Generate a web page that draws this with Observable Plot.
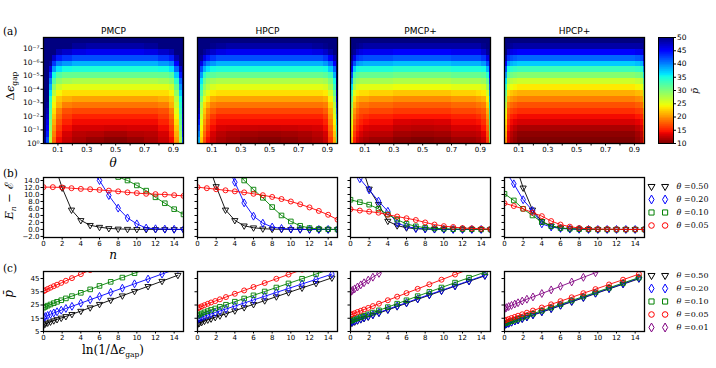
<!DOCTYPE html>
<html><head><meta charset="utf-8">
<script src="https://cdn.jsdelivr.net/npm/d3@7"></script>
<script src="https://cdn.jsdelivr.net/npm/@observablehq/plot@0.6"></script>
<style>
body{margin:0;background:#fff;}
#fig{position:relative;width:716px;height:368px;overflow:hidden;background:#fff;}
</style></head><body><div id="fig"></div>
<script>
// ---------------- data ----------------
const methods = ["PMCP", "HPCP", "PMCP+", "HPCP+"];
const thetaEdges = [0, 0.02, 0.04, 0.06, 0.09, 0.13, 0.2, 0.3, 0.42, 0.58, 0.7, 0.8, 0.87, 0.91, 0.94, 0.96, 0.97];
const lnGapEdges = [0,1,2,3,4,5,6,7,8,9,10,11,12,13,14,15,16,17,18];
const thetaTicks = [0.1,0.2,0.3,0.4,0.5,0.6,0.7,0.8,0.9];
const thetaTickLabels = ["0.1","","0.3","","0.5","","0.7","","0.9"];
const gapTicks = [1,1e-1,1e-2,1e-3,1e-4,1e-5,1e-6,1e-7];
const gapTickLabels = ["10\u2070","10\u207B\u00B9","10\u207B\u00B2","10\u207B\u00B3","10\u207B\u2074","10\u207B\u2075","10\u207B\u2076","10\u207B\u2077"];
const pbarTicks = [10,15,20,25,30,35,40,45,50];

// heatmap: one array per theta column, p-bar from ln(1/gap)=0 (bottom) upward
const heatPMCP = [
 [49,50,50,50,50,50,50,50,50,50,50,50,50,50,50,50,50,50],
 [42,44,45,46,47,48,49,50,50,50,50,50,50,50,50,50,50,50],
 [27,28,29,30,31,32,33,34,36,38,40,43,46,49,50,50,50,50],
 [18,19,20,21,22,23,24,25,27,29,32,35,39,43,47,50,50,50],
 [14,15,16,17,18,19,21,22,24,26,29,32,36,40,44,48,50,50],
 [12.5,13,14,15,16,17,19,21,23,25,28,31,35,39,43,47,50,50],
 [11.5,12,13,14,15,16.5,18.5,20.5,23,25,27.5,31,34.5,38,42,46,49,50],
 [10.8,11.8,13,14,15,16.5,18.5,20.5,23,25,27.5,31,34.5,38,42,45.5,48.5,50],
 [10.3,11.3,12.8,14,15,16.5,18.5,20.5,23,25,27.5,31,34.5,38,42,45.5,48.5,50],
 [10.8,11.8,13,14,15,16.5,18.5,20.5,23,25,27.5,31,34.5,38,42,45.5,48.5,50],
 [11.5,12,13,14,15,16.5,18.5,20.5,23,25,27.5,31,34.5,38,42,46,49,50],
 [12.5,13,14,15,16,17,19,21,23,25,28,31,35,39,43,47,50,50],
 [14,15,16,17,18,19,21,22,24,26,29,32,36,40,44,48,50,50],
 [20,21,22,23,24,25,26,27,29,31,34,37,41,45,48,50,50,50],
 [28,29,30,31,32,33,34,35,37,39,41,44,47,50,50,50,50,50],
 [42,44,45,46,47,48,49,50,50,50,50,50,50,50,50,50,50,50]
];
const heatHPCP = [
 [38,40,42,44,46,48,49,50,50,50,50,50,50,50,50,50,50,50],
 [22,23,24,25,26,27,28,30,32,34,36,39,42,46,49,50,50,50],
 [17,18,19,20,21,22,23,25,27,29,31,34,38,42,46,49,50,50],
 [14,15,16,17,18,19,21,23,25,27,29,32,36,40,44,48,50,50],
 [12.5,13,14,15,16,17.5,19,21,23.5,25.5,28,31.5,35,39,43,47,49.5,50],
 [11.5,12,13,14,15,16.5,18.5,20.5,23,25,27.5,31,34.5,38,42,46,49,50],
 [11,11.5,12.8,14,15,16.5,18.5,20.5,23,25,27.5,31,34.5,38,42,45.5,48.5,50],
 [10.5,11.2,12.6,14,15,16.5,18.5,20.5,23,25,27.5,31,34.5,38,42,45.5,48.5,50],
 [10.2,11,12.5,14,15,16.5,18.5,20.5,23,25,27.5,31,34.5,38,42,45.5,48.5,50],
 [10.5,11.2,12.6,14,15,16.5,18.5,20.5,23,25,27.5,31,34.5,38,42,45.5,48.5,50],
 [11,11.5,12.8,14,15,16.5,18.5,20.5,23,25,27.5,31,34.5,38,42,45.5,48.5,50],
 [11.5,12,13,14,15,16.5,18.5,20.5,23,25,27.5,31,34.5,38,42,46,49,50],
 [12.5,13,14,15,16,17.5,19,21,23.5,25.5,28,31.5,35,39,43,47,49.5,50],
 [16,17,18,19,20,21,22.5,24,26,28,30,33,37,41,45,48.5,50,50],
 [21,22,23,24,25,26,27,29,31,33,35,38,41,45,48,50,50,50],
 [31,33,35,37,39,41,43,45,47,49,50,50,50,50,50,50,50,50]
];
const heatPMCPplus = [
 [22,23,24,25,26,27,29,31,33,36,39,42,45,47,49,50,50,50],
 [15,16,17,18,19,20,21.5,23,25,27.5,30,33,37,42,46,49,50,50],
 [13,14,15,16,17,18,19.5,21,23.5,25.5,28.5,31.5,35,39,43,47,49.5,50],
 [12,13,14,15,16,17,18.5,20.5,23,25,28,31,34.5,38.5,42.5,46,49,50],
 [11.5,12.3,13.3,14.3,15.5,17,18.5,20.5,23,25,28,31,34.5,38,42,45.5,48.5,50],
 [11,12,13,14,15,16.5,18,20,22.5,25,28,31,34.5,38,42,45.5,48.5,50],
 [11,12,13,14,15,16.5,18,20,22.5,25,28,31,34.5,38,42,45.5,48.5,50],
 [10.3,11.2,12.2,13.2,14.5,16,17.5,19.5,22,24.5,27.5,30.5,34,37.5,41.5,45,48.5,50],
 [10,11,12,13,14.5,16,17.5,19.5,22,24.5,27.5,30.5,34,37.5,41.5,45,48.5,50],
 [10.3,11.2,12.2,13.2,14.5,16,17.5,19.5,22,24.5,27.5,30.5,34,37.5,41.5,45,48.5,50],
 [11,12,13,14,15,16.5,18,20,22.5,25,28,31,34.5,38,42,45.5,48.5,50],
 [11,12,13,14,15,16.5,18,20,22.5,25,28,31,34.5,38,42,45.5,48.5,50],
 [11.5,12.3,13.3,14.3,15.5,17,18.5,20.5,23,25,28,31,34.5,38,42,45.5,48.5,50],
 [12.5,13.5,14.5,15.5,16.5,17.5,19,21,23.5,25.5,28.5,31.5,35,39,43,47,49.5,50],
 [16,17,18,19,20,21,22.5,24,26,28.5,31,34,38,42,46,49,50,50],
 [28,29,30,31,32,33,35,37,39,41,43,45,47,49,50,50,50,50]
];
const heatHPCPplus = [
 [20,21,22,23,24,25,27,29,31,33.5,36,39,42,45,48,50,50,50],
 [13,13.5,14.5,15.5,16.5,17.5,19,21,23,25.5,28,31.5,35,39,43,47,49.5,50],
 [11.5,12,13,14,15,16.5,18,20,22,24.5,27,30.5,34,38,42,46,49,50],
 [10.8,11.2,12.2,13.5,14.5,16,17.5,19.5,21.5,24,26.5,30,33.5,37.5,41.5,45.5,48.5,50],
 [10,10.5,11.5,13,14,15.5,17,19,21,23.5,26,29.5,33,37,41,45,48.5,50],
 [10,10.5,11.5,13,14,15.5,17,19,21,23.5,26,29.5,33,37,41,45,48.5,50],
 [10,10.5,11.5,13,14,15.5,17,19,21,23.5,26,29.5,33,37,41,45,48.5,50],
 [10,10.5,11.5,13,14,15.5,17,19,21,23.5,26,29.5,33,37,41,45,48.5,50],
 [10,10.5,11.5,13,14,15.5,17,19,21,23.5,26,29.5,33,37,41,45,48.5,50],
 [10,10.5,11.5,13,14,15.5,17,19,21,23.5,26,29.5,33,37,41,45,48.5,50],
 [10,10.5,11.5,13,14,15.5,17,19,21,23.5,26,29.5,33,37,41,45,48.5,50],
 [10,10.5,11.5,13,14,15.5,17,19,21,23.5,26,29.5,33,37,41,45,48.5,50],
 [10,10.5,11.5,13,14,15.5,17,19,21,23.5,26,29.5,33,37,41,45,48.5,50],
 [10.8,11.2,12.2,13.5,14.5,16,17.5,19.5,21.5,24,26.5,30,33.5,37.5,41.5,45.5,48.5,50],
 [11.5,12,13,14,15,16.5,18,20,22,24.5,27,30.5,34,38,42,46,49,50],
 [16,17,18,19,20,21,23,25,27,29.5,32,35.5,39,43,46.5,49.5,50,50]
];

// (b) E_n - E vs n ; series order = thetaLabels
const thetaLabels = ["0.50", "0.20", "0.10", "0.05", "0.01"];
const nValues = [0,1,2,3,4,5,6,7,8,9,10,11,12,13,14,15];
const nTicks = [0,2,4,6,8,10,12,14];
const energyTicks = [-2,0,2,4,6,8,10,12,14];
const energyPMCP = [
 [30,20,11.9,5.6,2.6,1.2,0.66,0.3,0.15,0.08,0.04,0.02,0.01,0,0,0],
 [45,38,31,25,20,17,14.0,9.7,6.1,3.3,1.6,0.4,0.2,0.1,0.05,0],
 [40,35,30,26,23,20,18,16.4,15.0,14.0,12.6,11.1,9.2,7.5,5.8,4.3],
 [12.1,12.1,12.0,11.8,11.6,11.5,11.3,11.1,10.9,10.6,10.4,10.2,10.1,10.0,9.8,9.6]
];
const energyHPCP = [
 [30,20,12.3,5.6,2.6,1.05,0.5,0.2,0.1,0.05,0.02,0,0,0,0,0],
 [35,28,23,19,13.5,7.6,3.8,1.8,0.7,0.3,0.1,0.05,0,0,0,0],
 [35,29,24,20,17,14.0,11.4,9.05,6.4,4.0,2.3,1.05,0.4,0.15,0.05,0],
 [12.1,11.8,11.5,11.2,10.9,10.6,10.2,9.8,9.3,8.7,8.0,7.2,6.3,5.3,4.2,2.8]
];
const energyPMCPplus = [
 [30,20,11.6,7.2,2.4,1.1,0.5,0.2,0.1,0.05,0.02,0,0,0,0,0],
 [17.5,14.5,11.3,8.1,5.2,1.8,0.86,0.3,0.15,0.1,0.05,0,0,0,0,0],
 [8.5,7.8,7.1,5.9,4.3,2.8,1.6,0.9,0.5,0.3,0.2,0.1,0.1,0.05,0,0],
 [5.8,5.4,5.1,4.8,4.2,3.7,3.2,2.7,2.0,1.4,0.95,0.7,0.4,0.3,0.2,0.1]
];
const energyHPCPplus = [
 [30,20,11.9,5.6,2.3,1.0,0.4,0.2,0.1,0.05,0,0,0,0,0,0],
 [17,13.05,8.5,5.4,1.6,0.7,0.3,0.1,0.05,0,0,0,0,0,0,0],
 [10.2,8.3,5.9,4.0,2.1,0.95,0.4,0.2,0.1,0.05,0,0,0,0,0,0],
 [7.5,6.7,5.9,4.8,3.8,2.4,1.4,0.8,0.4,0.2,0.1,0.1,0.05,0,0,0]
];

// (c) p-bar vs ln(1/gap)
const lnGap = [0.03,0.2,0.45,0.75,1.1,1.45,1.9,2.4,3.05,4.0,5.0,6.0,7.2,8.45,9.75,11.2,12.7,14.4];
const lnTicks = [0,2,4,6,8,10,12,14];
const pbarLineTicks = [5,15,25,35,45];
const pbarPMCP = [
 [10.0,10.8,11.5,12.3,13.2,14.1,15.2,16.4,18.0,20.4,23.0,25.6,28.7,32.0,35.4,39.1,43.0,47.5],
 [15.5,16.3,17.1,18.0,19.0,19.9,21.1,22.4,24.0,26.4,29.0,31.5,34.6,37.7,41.0,44.6,48.4,52.6],
 [23.0,23.7,24.5,25.4,26.4,27.4,28.6,30.0,31.7,34.2,36.8,39.4,42.5,45.7,49.0,52.8,56.8,61.2],
 [35.5,36.2,37.1,38.1,39.2,40.3,41.7,43.3,45.3,48.3,51.4,54.5,58.3,62.2,66.2,70.7,75.4,80.6]
];
const pbarHPCP = [
 [10.5,11.3,12.0,12.9,13.8,14.6,15.7,16.9,18.4,20.7,23.1,25.5,28.3,31.3,34.4,37.9,41.4,45.5],
 [14.3,15.0,15.7,16.5,17.4,18.3,19.3,20.5,22.0,24.2,26.5,28.8,31.6,34.5,37.5,40.9,44.3,48.3],
 [17.0,17.8,18.6,19.5,20.4,21.3,22.4,23.6,25.2,27.5,29.9,32.3,35.2,38.2,41.3,44.8,48.4,52.4],
 [22.5,23.2,24.0,24.9,25.9,26.9,28.0,29.3,31.0,33.5,36.0,38.6,41.6,44.8,48.0,51.7,55.5,59.8]
];
const pbarPMCPplus = [
 [11.0,11.6,12.3,13.1,14.0,14.9,16.0,17.3,18.9,21.3,23.8,26.3,29.3,32.4,35.6,39.2,42.9,47.0],
 [11.8,12.3,13.0,13.7,14.6,15.5,16.6,17.8,19.4,21.8,24.3,26.8,29.8,32.9,36.0,39.6,43.3,47.5],
 [13.0,13.6,14.3,15.1,16.0,16.9,18.0,19.3,21.0,23.4,26.0,28.6,31.7,34.9,38.2,41.9,45.6,49.8],
 [17.5,18.1,18.8,19.7,20.6,21.6,22.8,24.2,26.0,28.6,31.3,34.0,37.2,40.6,44.1,48.0,52.0,56.5],
 [35.0,36.0,37.2,38.6,40.2,41.8,43.8,46.0,48.9,53.0,57.5,62.0,67.6,73.5,79.6,86.4,93.5,101.5]
];
const pbarHPCPplus = [
 [9.8,10.3,10.9,11.7,12.6,13.4,14.5,15.7,17.3,19.6,22.0,24.5,27.4,30.4,33.6,37.1,40.7,44.8],
 [10.2,10.7,11.3,12.1,12.9,13.8,14.9,16.1,17.7,20.0,22.4,24.9,27.8,30.8,34.0,37.5,41.1,45.3],
 [11.0,11.5,12.1,12.8,13.7,14.5,15.6,16.8,18.4,20.7,23.1,25.5,28.4,31.4,34.5,38.0,41.6,45.7],
 [13.3,13.8,14.4,15.2,16.0,16.9,18.0,19.2,20.8,23.1,25.5,27.9,30.8,33.9,37.0,40.5,44.1,48.3],
 [22.3,23.0,23.8,24.7,25.7,26.7,28.0,29.4,31.1,33.7,36.4,39.1,42.4,45.9,49.4,53.3,57.4,62.1]
];

// ---------------- styling ----------------
const seriesStyle = [
  {color: "#000000", symbol: "triangle", rotate: 180, r: 2.3},
  {color: "#0000ff", symbol: "diamond", rotate: 0, r: 2.4},
  {color: "#008000", symbol: "square", rotate: 0, r: 2.6},
  {color: "#ff0000", symbol: "circle", rotate: 0, r: 2.5},
  {color: "#800080", symbol: "diamond", rotate: 0, r: 2.4}
];
const jetDomain = [10, 13.6, 14.4, 23.6, 24.4, 30, 35, 36, 45, 50];
const jetRange = ["#800000","#e80000","#ff1300","#ffec00","#eeff08","#7bff7b","#14ffe2","#00e5ff","#0000ff","#000080"];
const colorScale = {type: "linear", domain: jetDomain, range: jetRange, clamp: true};
const baseStyle = {background: "transparent", color: "black", fontFamily: "DejaVu Sans", fontSize: "7px", overflow: "visible"};
const panelLeft = [43, 197, 350, 504];
const frameW = 140;
const fig = document.getElementById("fig");
function place(el, left, top) {
  el.style.position = "absolute";
  el.style.left = left + "px";
  el.style.top = top + "px";
  el.style.maxWidth = "none";
  fig.appendChild(el);
}
const axisCommon = {tickSize: 2.5, tickPadding: 1.5, fontSize: 7, label: null};

// ---------------- (a) heatmaps ----------------
function heatCells(cols) {
  const out = [];
  cols.forEach((col, j) => col.forEach((v, k) => out.push({
    x1: thetaEdges[j], x2: thetaEdges[j + 1],
    y1: Math.exp(-lnGapEdges[k]), y2: Math.exp(-lnGapEdges[k + 1]), v
  })));
  return out;
}
[heatPMCP, heatHPCP, heatPMCPplus, heatHPCPplus].forEach((cols, i) => {
  const ml = 32, mr = 6, mt = 14, mb = 14, fh = 106;
  const marks = [
    Plot.frame({fill: jetRange[jetRange.length - 1]}),
    Plot.rect(heatCells(cols), {x1: "x1", x2: "x2", y1: "y1", y2: "y2", fill: "v", shapeRendering: "crispEdges"}),
    Plot.frame({stroke: "black", strokeWidth: 1.3}),
    Plot.axisX({...axisCommon, ticks: thetaTicks, tickFormat: d => thetaTickLabels[thetaTicks.indexOf(d)]}),
    Plot.text([methods[i]], {frameAnchor: "top", dy: -4, lineAnchor: "bottom", fontSize: 9, fontFamily: "DejaVu Sans"})
  ];
  if (i === 0) marks.push(Plot.axisY({...axisCommon, fontSize: 7.5, ticks: gapTicks, tickFormat: d => gapTickLabels[gapTicks.indexOf(d)]}));
  const svg = Plot.plot({
    width: ml + frameW + mr, height: mt + fh + mb,
    marginLeft: ml, marginRight: mr, marginTop: mt, marginBottom: mb,
    x: {domain: [0, 0.97]},
    y: i === 0 ? {type: "log", domain: [1, Math.exp(-18)]} : {type: "log", domain: [1, Math.exp(-18)], axis: null},
    color: colorScale,
    style: baseStyle,
    marks
  });
  place(svg, panelLeft[i] - ml, 37 - mt);
});

// colorbar
{
  const cbLevels = d3.range(10, 50, 0.25);
  const ml = 2, mr = 22, mt = 6, mb = 6;
  const svg = Plot.plot({
    width: ml + 15 + mr, height: mt + 106 + mb,
    marginLeft: ml, marginRight: mr, marginTop: mt, marginBottom: mb,
    x: {domain: [0, 1], axis: null},
    y: {domain: [10, 50]},
    color: colorScale,
    style: baseStyle,
    marks: [
      Plot.rect(cbLevels, {x1: 0, x2: 1, y1: d => d, y2: d => d + 0.25, fill: d => d + 0.125, shapeRendering: "crispEdges"}),
      Plot.frame({stroke: "black", strokeWidth: 1}),
      Plot.axisY({...axisCommon, anchor: "right", ticks: pbarTicks, tickSize: 2, fontSize: 7.5})
    ]
  });
  place(svg, 658 - ml, 37 - mt);
}

// ---------------- (b) and (c) line panels ----------------
function linePanel(i, seriesVals, xs, xTicks, yDomain, yTicks, yFormat, top) {
  const ml = 28, mr = 4, mt = 4, mb = 14, fh = 60;
  const marks = [];
  seriesVals.forEach((vals, s) => {
    const st = seriesStyle[s];
    const pts = xs.map((x, j) => ({x, y: vals[j]}));
    marks.push(Plot.line(pts, {x: "x", y: "y", stroke: st.color, strokeWidth: 0.9, clip: true}));
    marks.push(Plot.dot(pts, {x: "x", y: "y", stroke: st.color, symbol: st.symbol, rotate: st.rotate, r: st.r, strokeWidth: 0.9, fill: "none", clip: true}));
  });
  marks.push(Plot.frame({stroke: "black", strokeWidth: 1.3}));
  marks.push(Plot.axisX({...axisCommon, ticks: xTicks, tickFormat: d => String(d)}));
  marks.push(Plot.axisY({...axisCommon, ticks: yTicks, tickFormat: i === 0 ? yFormat : () => ""}));
  const svg = Plot.plot({
    width: ml + frameW + mr, height: mt + fh + mb,
    marginLeft: ml, marginRight: mr, marginTop: mt, marginBottom: mb,
    x: {domain: [0, 15]},
    y: {domain: yDomain},
    style: baseStyle,
    marks
  });
  place(svg, panelLeft[i] - ml, top - mt);
}
const fmtE = d => (d < 0 ? "\u2212" : "") + Math.abs(d).toFixed(1);
[energyPMCP, energyHPCP, energyPMCPplus, energyHPCPplus].forEach((s, i) =>
  linePanel(i, s, nValues, nTicks, [-2.3, 14.86], energyTicks, fmtE, 177));
[pbarPMCP, pbarHPCP, pbarPMCPplus, pbarHPCPplus].forEach((s, i) =>
  linePanel(i, s, lnGap, lnTicks, [5, 50.3], pbarLineTicks, d => String(d), 271));

// legends
function legend(n, firstY, spacing) {
  const labels = thetaLabels.slice(0, n);
  const marks = [];
  labels.forEach((lab, s) => {
    const st = seriesStyle[s];
    for (const dx of [0, 13.6]) marks.push(Plot.dot([lab], {y: d => d, frameAnchor: "left", dx, symbol: st.symbol, rotate: st.rotate, r: st.r + 0.3, stroke: st.color, strokeWidth: 1, fill: "none"}));
  });
  marks.push(Plot.text(labels, {y: d => d, frameAnchor: "left", dx: 25, text: () => "\u03B8", fontStyle: "italic", fontFamily: "DejaVu Serif", fontSize: 8, textAnchor: "start"}));
  marks.push(Plot.text(labels, {y: d => d, frameAnchor: "left", dx: 32.5, text: d => "=" + d, fontFamily: "DejaVu Serif", fontSize: 8, textAnchor: "start"}));
  const svg = Plot.plot({
    width: 72, height: n * spacing,
    marginLeft: 6, marginRight: 0, marginTop: 0, marginBottom: 0,
    y: {type: "point", domain: labels, padding: 0.5, axis: null},
    style: baseStyle,
    marks
  });
  place(svg, 644.7, firstY - spacing / 2);
}
legend(4, 186, 13.2);
legend(5, 273.3, 13.4);

// ---------------- annotation text ----------------
const ov = d3.select(fig).append("svg").attr("width", 716).attr("height", 368)
  .style("position", "absolute").style("left", "0px").style("top", "0px").style("pointer-events", "none")
  .attr("font-family", "DejaVu Serif").attr("fill", "black");
ov.append("text").attr("x", 3).attr("y", 34.5).attr("font-size", 10.5).text("(a)");
ov.append("text").attr("x", 3).attr("y", 176.5).attr("font-size", 10.5).text("(b)");
ov.append("text").attr("x", 3).attr("y", 271.5).attr("font-size", 10.5).text("(c)");
{
  const t = ov.append("text").attr("transform", "translate(14,86) rotate(-90)").attr("text-anchor", "middle").attr("font-size", 11.5);
  t.append("tspan").text("\u0394");
  t.append("tspan").attr("font-style", "italic").text("\u03F5");
  t.append("tspan").attr("font-size", 7.5).attr("dy", 2.5).text("gap");
}
ov.append("text").attr("x", 113).attr("y", 167).attr("text-anchor", "middle").attr("font-size", 12).attr("font-style", "italic").text("\u03B8");
{
  const t = ov.append("text").attr("transform", "translate(13,201) rotate(-90)").attr("text-anchor", "middle").attr("font-size", 11.5);
  t.append("tspan").attr("font-style", "italic").text("E");
  t.append("tspan").attr("font-style", "italic").attr("font-size", 7.5).attr("dy", 2.5).text("n");
  t.append("tspan").attr("dy", -2.5).text(" \u2212 \u2130");
}
ov.append("text").attr("x", 113).attr("y", 259).attr("text-anchor", "middle").attr("font-size", 12).attr("font-style", "italic").text("n");
ov.append("text").attr("transform", "translate(13,294) rotate(-90)").attr("text-anchor", "middle").attr("font-size", 12).attr("font-style", "italic").text("p\u0304");
{
  const t = ov.append("text").attr("x", 113).attr("y", 354).attr("text-anchor", "middle").attr("font-size", 12);
  t.append("tspan").text("ln(1/\u0394");
  t.append("tspan").attr("font-style", "italic").text("\u03F5");
  t.append("tspan").attr("font-size", 7.5).attr("dy", 2.5).text("gap");
  t.append("tspan").attr("dy", -2.5).text(")");
}
ov.append("text").attr("transform", "translate(698,91) rotate(-90)").attr("text-anchor", "middle").attr("font-size", 9.5).attr("font-style", "italic").text("p\u0304");
</script>
</body></html>
